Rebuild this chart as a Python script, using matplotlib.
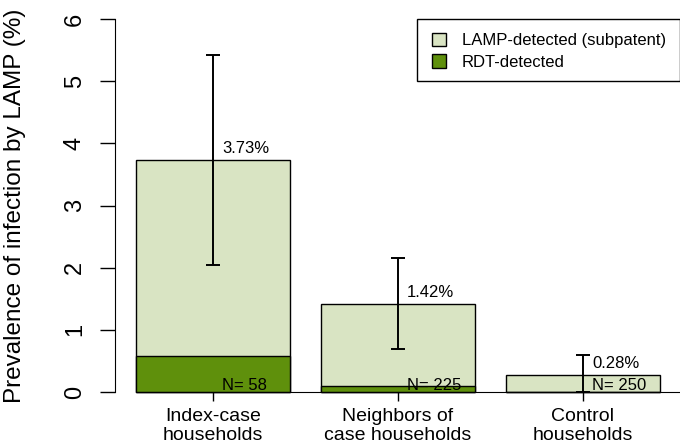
import matplotlib
matplotlib.use("Agg")
import matplotlib.pyplot as plt
from matplotlib.patches import Patch, Rectangle
import numpy as np

# values
groups = ["Index-case\nhouseholds", "Neighbors of\ncase households", "Control\nhouseholds"]
lamp_total = [3.73, 1.42, 0.28]
rdt = [0.58, 0.09, 0.0]
ci_low = [2.05, 0.70, 0.0]
ci_high = [5.42, 2.15, 0.59]
n_sizes = [58, 225, 250]
yticks = [0, 1, 2, 3, 4, 5, 6]

light = "#d9e4c3"
dark = "#5f900c"

plt.rcParams["font.family"] = ["Liberation Sans", "DejaVu Sans"]

W, H = 680, 448
fig = plt.figure(figsize=(6.8, 4.48), dpi=100)
ax = fig.add_axes([115 / W, 1 - 407 / H, 566 / W, 403 / H])

# R barplot geometry: width 1, space 0.2
centers = np.array([0.7, 1.9, 3.1])
ax.bar(centers, lamp_total, width=1.0, color=light, edgecolor="black", linewidth=1.0, clip_on=False)
ax.bar(centers, rdt, width=1.0, color=dark, edgecolor="black", linewidth=1.0, clip_on=False)

tot = np.array(lamp_total)
yerr = [tot - np.array(ci_low), np.array(ci_high) - tot]
ax.errorbar(centers, tot, yerr=yerr, fmt="none", ecolor="black", elinewidth=1.4,
            capsize=5.2, capthick=1.4, clip_on=False)

for c, t, n in zip(centers, lamp_total, n_sizes):
    ax.text(c + 0.06, t + 0.18, "%.2f%%" % t, ha="left", va="center", fontsize=12)
    ax.text(c + 0.06, 0.11, "N= %d" % n, ha="left", va="center", fontsize=12)

ax.set_xlim(0.064, 3.736)
ax.set_ylim(-0.24, 6.24)

for s in ["top", "right"]:
    ax.spines[s].set_visible(False)
ax.spines["left"].set_bounds(0, 6)
ax.spines["bottom"].set_position(("data", 0))
ax.spines["bottom"].set_bounds(0.2, 3.736)
ax.spines["bottom"].set_zorder(5)

ax.set_yticks(yticks)
ax.set_yticklabels([str(v) for v in yticks], rotation=90, va="center", fontsize=17)
ax.tick_params(axis="y", length=11, width=1.0, pad=10)
ax.set_xticks(centers)
ax.set_xticklabels(groups, fontsize=14, linespacing=1.15)
ax.tick_params(axis="x", length=6.5, width=1.0, pad=5)

fig.text(15 / W, 1 - 206 / H, "Prevalence of infection by LAMP (%)",
         rotation=90, ha="center", va="center", fontsize=17.5)

# legend: R-style box, entries drawn by matplotlib without its own frame
fig.patches.append(Rectangle((417 / W, 1 - 81 / H), 263 / W, 62 / H, transform=fig.transFigure,
                             facecolor="white", edgecolor="black", linewidth=1.0, zorder=4))
handles = [Patch(facecolor=light, edgecolor="black"), Patch(facecolor=dark, edgecolor="black")]
leg = fig.legend(handles, ["LAMP-detected (subpatent)", "RDT-detected"], loc="upper left",
                 bbox_to_anchor=(432 / W, 1 - 33 / H), fontsize=12, frameon=False,
                 handlelength=0.85, handleheight=0.85, handletextpad=0.95, borderpad=0,
                 labelspacing=0.35, borderaxespad=0)
leg.set_zorder(6)

fig.savefig("out.png", dpi=100)
